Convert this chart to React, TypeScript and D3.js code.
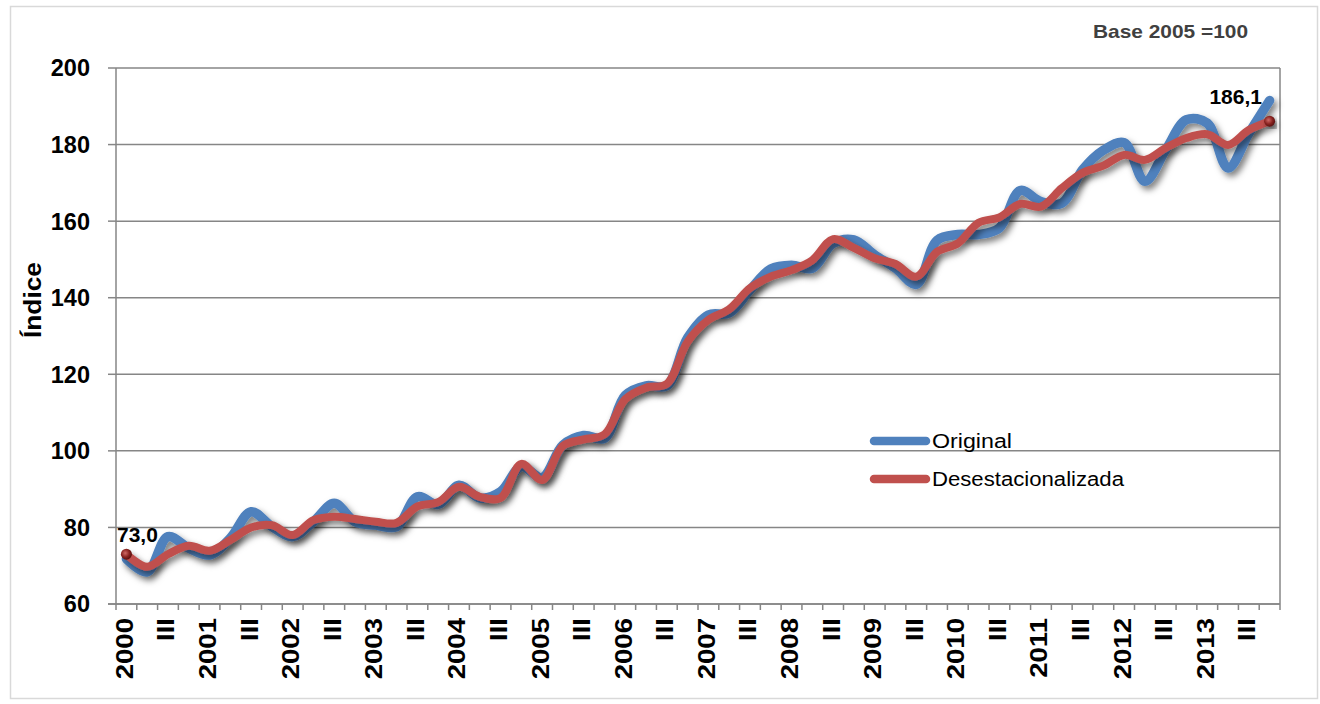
import React from "react";
import * as d3 from "d3";

const years = ["2000","2001","2002","2003","2004","2005","2006","2007","2008","2009","2010","2011","2012","2013"];
const quarterLabels = ["", "", "III", ""];
const original = [
  71.8, 68.4, 77.6, 74.6, 72.8, 77.2, 84.1, 80.2, 77.6, 81.5, 86.3, 81.5, 80.6, 80.2,
  88.0, 86.0, 91.0, 87.7, 89.3, 95.9, 93.0, 101.5, 104.0, 103.3, 114.5, 117.0, 117.0, 129.5,
  135.5, 136.0, 142.0, 147.5, 148.5, 147.7, 154.2, 155.1, 151.2, 147.7, 143.5, 155.0, 156.5, 156.5,
  158.2, 168.0, 165.1, 164.7, 173.4, 178.5, 180.5, 170.4, 178.6, 186.5, 185.6, 173.9, 182.9, 191.5,
];
const desest = [
  73.0, 69.7, 73.0, 75.2, 73.9, 76.7, 80.0, 80.6, 78.0, 81.9, 82.8, 82.2, 81.5, 81.2,
  85.5, 86.6, 90.6, 88.0, 87.7, 96.6, 92.4, 101.3, 103.0, 104.3, 113.5, 116.5, 117.5, 128.5,
  134.2, 137.0, 142.5, 145.5, 147.2, 149.8, 155.3, 153.0, 150.3, 148.8, 145.5, 152.0, 154.2, 159.6,
  161.0, 164.5, 163.8, 168.6, 172.6, 174.5, 177.3, 176.0, 179.1, 181.7, 182.7, 179.9, 183.8, 186.1,
];
const yTicks = [60, 80, 100, 120, 140, 160, 180, 200];
const seriesNames = ["Original", "Desestacionalizada"];
const firstLabel = "73,0";
const lastLabel = "186,1";

const categories: { key: string; label: string }[] = [];
years.forEach((y) => quarterLabels.forEach((q, i) => categories.push({ key: `${y}-${i + 1}`, label: i === 0 ? y : q })));

export default function App() {
  const W = 1320, H = 704;
  const left = 116, right = 1280, top = 68, bottom = 604;
  const x = d3.scaleBand<string>().domain(categories.map((c) => c.key)).range([left, right]).padding(0);
  const y = d3.scaleLinear().domain([60, 200]).range([bottom, top]);
  const cx = (i: number) => (x(categories[i].key) as number) + x.bandwidth() / 2;
  const line = d3.line<number>().x((_, i) => cx(i)).y((d) => y(d)).curve(d3.curveCatmullRom.alpha(0.5));
  const blue = "#4F81BD", red = "#C0504D";
  const font = "'Liberation Sans', Arial, sans-serif";
  const bounds = categories.map((c) => x(c.key) as number).concat([right]);
  const n = desest.length;

  return (
    <svg width={W} height={H} style={{ position: "absolute", left: 0, top: 0, background: "#fff" }} fontFamily={font}>
      <defs>
        <filter id="sh" x="-10%" y="-10%" width="120%" height="130%">
          <feDropShadow dx="3" dy="4" stdDeviation="3" floodColor="#000" floodOpacity="0.5" />
        </filter>
        <radialGradient id="dot" cx="40%" cy="40%" r="60%">
          <stop offset="0%" stopColor="#d06a66" />
          <stop offset="60%" stopColor="#8a2421" />
          <stop offset="100%" stopColor="#5a1210" />
        </radialGradient>
      </defs>
      <rect x={10.5} y={6.5} width={1307} height={692} fill="#fff" stroke="#d9d9d9" strokeWidth={1.5} />
      {yTicks.map((t) => (
        <line key={t} x1={left} x2={right} y1={y(t)} y2={y(t)} stroke="#868686" strokeWidth={1.5} />
      ))}
      <line x1={right} x2={right} y1={top} y2={bottom} stroke="#868686" strokeWidth={1.5} />
      <line x1={left} x2={left} y1={top} y2={bottom} stroke="#868686" strokeWidth={1.5} />
      {yTicks.map((t) => (
        <g key={"yt" + t}>
          <line x1={left - 8} x2={left} y1={y(t)} y2={y(t)} stroke="#868686" strokeWidth={1.5} />
          <text x={90} y={y(t)} dy="0.36em" textAnchor="end" fontSize={23.5} fontWeight="bold" fill="#000">{t}</text>
        </g>
      ))}
      <text transform={`translate(41,300) rotate(-90)`} textAnchor="middle" fontSize={23} fontWeight="bold" fill="#000" textLength={76} lengthAdjust="spacingAndGlyphs">Índice</text>
      <line x1={left - 8} x2={right} y1={bottom} y2={bottom} stroke="#868686" strokeWidth={1.5} />
      {bounds.map((b, i) => (
        <line key={"xt" + i} x1={b} x2={b} y1={bottom} y2={bottom + 6} stroke="#868686" strokeWidth={1.5} />
      ))}
      {categories.map((c, i) =>
        c.label ? (
          <text key={"xl" + i} transform={`translate(${cx(i) + 6.5},${618}) rotate(-90) scale(1.2,1)`} textAnchor="end" fontSize={23} fontWeight="bold" fill="#000">{c.label}</text>
        ) : null
      )}
      <path d={line(original) || ""} fill="none" stroke={blue} strokeWidth={9.5} strokeLinecap="round" strokeLinejoin="round" filter="url(#sh)" />
      <path d={line(desest) || ""} fill="none" stroke={red} strokeWidth={8} strokeLinecap="round" strokeLinejoin="round" filter="url(#sh)" />
      <circle cx={cx(0)} cy={y(desest[0])} r={5.5} fill="url(#dot)" />
      <circle cx={cx(n - 1)} cy={y(desest[n - 1])} r={5.5} fill="url(#dot)" filter="url(#sh)" />
      <text x={117} y={y(desest[0]) - 12} fontSize={21} fontWeight="bold" fill="#000">{firstLabel}</text>
      <text x={1262} y={y(desest[n - 1]) - 17} textAnchor="end" fontSize={21} fontWeight="bold" fill="#000">{lastLabel}</text>
      <line x1={874} x2={926} y1={441} y2={441} stroke={blue} strokeWidth={8.5} strokeLinecap="round" />
      <text x={932} y={448} fontSize={20} fill="#000" textLength={80} lengthAdjust="spacingAndGlyphs">{seriesNames[0]}</text>
      <line x1={874} x2={926} y1={479} y2={479} stroke={red} strokeWidth={8.5} strokeLinecap="round" />
      <text x={932} y={486} fontSize={20} fill="#000" textLength={192} lengthAdjust="spacingAndGlyphs">{seriesNames[1]}</text>
      <text x={1093} y={38} fontSize={19} fontWeight="bold" fill="#404040" textLength={155} lengthAdjust="spacingAndGlyphs">Base 2005 =100</text>
    </svg>
  );
}
